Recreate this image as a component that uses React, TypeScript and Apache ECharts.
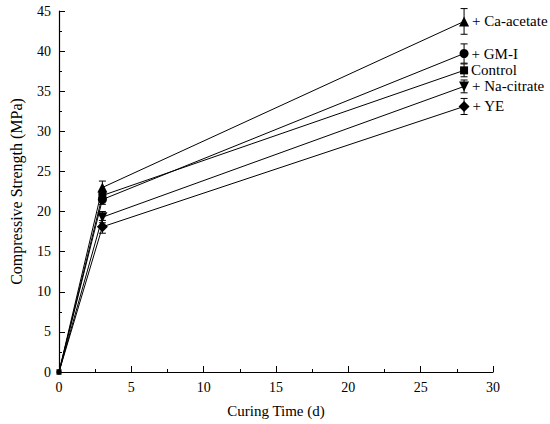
import React, { useEffect, useRef } from "react";
import * as echarts from "echarts";

const days = [0, 3, 28];
const seriesNames = ["+ Ca-acetate", "+ GM-I", "Control", "+ Na-citrate", "+ YE"];
const caAcetate = [0, 23.0, 43.7];
const gmI = [0, 21.5, 39.7];
const control = [0, 22.0, 37.6];
const naCitrate = [0, 19.3, 35.6];
const ye = [0, 18.1, 33.1];
const caAcetateErr = [0, 0.8, 1.6];
const gmIErr = [0, 0.6, 1.2];
const controlErr = [0, 0.6, 0.8];
const naCitrateErr = [0, 0.7, 0.8];
const yeErr = [0, 0.8, 1.0];
const symbols = ["triangle", "circle", "rect", "triangle", "diamond"];
const symbolRotations = [0, 0, 0, 180, 0];
const symbolSizes = [10, 9, 8, 10, 11];
const xTicks = { min: 0, max: 30, interval: 5 };
const yTicks = { min: 0, max: 45, interval: 5 };

const FONT = "Liberation Serif";

export default function App() {
  const ref = useRef<HTMLDivElement>(null);
  useEffect(() => {
    if (!ref.current) return;
    const chart = echarts.init(ref.current, undefined, { renderer: "svg" });
    const values = [caAcetate, gmI, control, naCitrate, ye];
    const errs = [caAcetateErr, gmIErr, controlErr, naCitrateErr, yeErr];

    const lineSeries = values.map((vals, si) => ({
      type: "line",
      name: seriesNames[si],
      data: vals.map((v, i) => {
        const item: any = { value: [days[i], v] };
        if (i === 0) item.symbolSize = 5;
        if (i === vals.length - 1) {
          item.label = {
            show: true,
            position: "right",
            distance: 3,
            formatter: seriesNames[si],
            fontFamily: FONT,
            fontSize: 15,
            color: "#000",
          };
        }
        return item;
      }),
      symbol: symbols[si],
      symbolRotate: symbolRotations[si],
      symbolSize: symbolSizes[si],
      showAllSymbol: true,
      itemStyle: { color: "#000" },
      lineStyle: { color: "#000", width: 1 },
      z: 3,
    }));

    const errData: number[][] = [];
    values.forEach((vals, si) => {
      vals.forEach((v, i) => {
        if (errs[si][i] > 0) errData.push([days[i], v - errs[si][i], v + errs[si][i]]);
      });
    });

    const errSeries = {
      type: "custom",
      data: errData,
      encode: { x: 0, y: [1, 2] },
      z: 2,
      renderItem: (_params: any, api: any) => {
        const x = api.value(0);
        const lo = api.coord([x, api.value(1)]);
        const hi = api.coord([x, api.value(2)]);
        const w = 3.5;
        const style = { stroke: "#000", lineWidth: 1 };
        return {
          type: "group",
          children: [
            { type: "line", shape: { x1: lo[0], y1: lo[1], x2: hi[0], y2: hi[1] }, style },
            { type: "line", shape: { x1: lo[0] - w, y1: lo[1], x2: lo[0] + w, y2: lo[1] }, style },
            { type: "line", shape: { x1: hi[0] - w, y1: hi[1], x2: hi[0] + w, y2: hi[1] }, style },
          ],
        };
      },
    };

    chart.setOption({
      animation: false,
      backgroundColor: "#fff",
      textStyle: { fontFamily: FONT },
      grid: { left: 53, right: 57, top: 11, bottom: 52, containLabel: false },
      xAxis: {
        type: "value",
        min: xTicks.min,
        max: xTicks.max,
        interval: xTicks.interval,
        name: "Curing Time (d)",
        nameLocation: "middle",
        nameGap: 31,
        nameTextStyle: { fontFamily: FONT, fontSize: 15, color: "#000" },
        axisLine: { show: true, lineStyle: { color: "#000", width: 1.2 } },
        axisTick: { show: true, inside: true, length: 6, lineStyle: { color: "#000" } },
        minorTick: { show: true, splitNumber: 2, length: 3, lineStyle: { color: "#000" } },
        axisLabel: { fontFamily: FONT, fontSize: 14, color: "#000", margin: 8 },
        splitLine: { show: false },
      },
      yAxis: {
        type: "value",
        min: yTicks.min,
        max: yTicks.max,
        interval: yTicks.interval,
        name: "Compressive Strength (MPa)",
        nameLocation: "middle",
        nameGap: 35,
        nameTextStyle: { fontFamily: FONT, fontSize: 16, color: "#000" },
        axisLine: { show: true, lineStyle: { color: "#000", width: 1.2 } },
        axisTick: { show: true, inside: true, length: 6, lineStyle: { color: "#000" } },
        minorTick: { show: true, splitNumber: 2, length: 3, lineStyle: { color: "#000" } },
        axisLabel: { fontFamily: FONT, fontSize: 14, color: "#000", margin: 8 },
        splitLine: { show: false },
      },
      series: [errSeries, ...lineSeries],
    });
    return () => chart.dispose();
  }, []);
  return (
    <div
      ref={ref}
      style={{ position: "fixed", left: 0, top: 0, width: 550, height: 424, background: "#fff" }}
    />
  );
}
